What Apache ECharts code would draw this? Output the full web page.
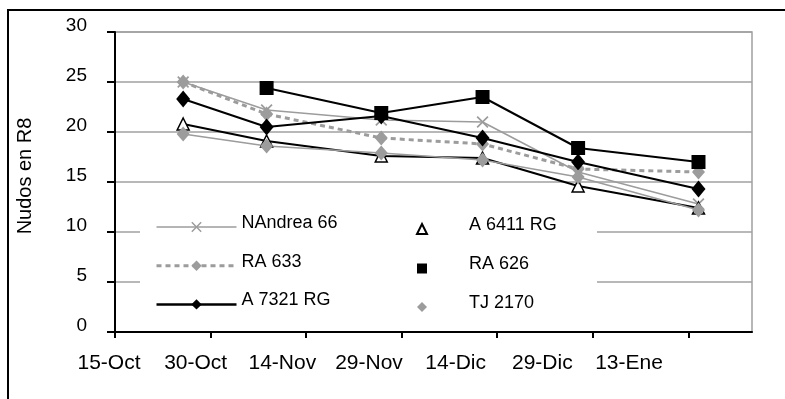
<!DOCTYPE html>
<html>
<head>
<meta charset="utf-8">
<script src="https://cdn.jsdelivr.net/npm/echarts@6/dist/echarts.min.js"></script>
<style>
  html, body { margin: 0; padding: 0; background: #fff; }
  #chart { width: 785px; height: 399px; }
</style>
</head>
<body>
<div id="chart"></div>
<script>
// Sampling dates, in days after 15-Oct
const sampleDay = [10.7, 23.8, 41.8, 57.7, 72.7, 91.6];
// Date tick labels (every 15 days from 15-Oct)
const dateLabels = ['15-Oct', '30-Oct', '14-Nov', '29-Nov', '14-Dic', '29-Dic', '13-Ene'];
const dateTickDays = [0, 15, 30, 45, 60, 75, 90];

// Nudos en R8 per cultivar
const nandrea66 = [25.0, 22.2, 21.2, 21.0, 16.0, 12.8];
const a6411rg   = [20.8, 19.1, 17.6, 17.4, 14.6, 12.4];
const ra633     = [25.0, 21.8, 19.4, 18.8, 16.3, 16.0];
const ra626     = [null, 24.4, 21.9, 23.5, 18.4, 17.0];
const a7321rg   = [23.3, 20.5, 21.6, 19.4, 17.0, 14.3];
const tj2170    = [19.8, 18.6, 17.9, 17.2, 15.5, 12.2];

const FONT = "'Liberation Sans', Arial, sans-serif";
const GRAY = '#9c9c9c';
const X_MARK = 'path://M1,0 L5,4 L9,0 L10,1 L6,5 L10,9 L9,10 L5,6 L1,10 L0,9 L4,5 L0,1 Z';

function points(values) {
  const out = [];
  values.forEach((v, i) => { if (v != null) out.push([sampleDay[i], v]); });
  return out;
}

function lineSeries(name, values, symbol, symbolSize, lineStyle, itemStyle) {
  return {
    name, type: 'line', xAxisIndex: 0, yAxisIndex: 0,
    data: points(values), symbol, symbolSize, showAllSymbol: true,
    lineStyle, itemStyle, emphasis: { disabled: true }
  };
}

const chart = echarts.init(document.getElementById('chart'), null, { renderer: 'canvas' });

// legend names sit a little above their samples
function legendTextStyle(leftPad) {
  return {
    fontSize: 18, fontFamily: FONT, color: '#000',
    rich: { n: { fontSize: 18, fontFamily: FONT, color: '#000', padding: [0, 0, 8, leftPad] } }
  };
}

chart.setOption({
  animation: false,
  backgroundColor: '#fff',
  grid: [
    { left: 115, right: 33, top: 32, bottom: 67, show: true, borderColor: '#a0a0a0', borderWidth: 1.5 },
    { left: 109, right: 156, top: 32, bottom: 67, show: false }
  ],
  xAxis: [
    {
      gridIndex: 0, type: 'value', min: 0, max: 100, interval: 15,
      axisLine: { show: true, onZero: false, lineStyle: { color: '#000', width: 2 } },
      axisTick: { show: true, customValues: dateTickDays, length: 6, lineStyle: { color: '#000', width: 2 } },
      axisLabel: { show: false },
      splitLine: { show: false }
    },
    {
      gridIndex: 1, type: 'value', min: 0, max: 6, interval: 1,
      axisLine: { show: false }, axisTick: { show: false }, splitLine: { show: false },
      axisLabel: {
        fontSize: 21, fontFamily: FONT, color: '#000', margin: 21,
        formatter: (v) => dateLabels[v] || ''
      }
    }
  ],
  yAxis: [
    {
      gridIndex: 0, type: 'value', min: 0, max: 30, interval: 5,
      axisLine: { show: true, lineStyle: { color: '#000', width: 2 } },
      axisTick: { show: true, length: 8, lineStyle: { color: '#000', width: 2 } },
      axisLabel: { fontSize: 19, fontFamily: FONT, color: '#000', margin: 28, verticalAlign: 'bottom', lineHeight: 12 },
      splitLine: { show: true, lineStyle: { color: '#a0a0a0', width: 1.5 } }
    },
    { gridIndex: 1, type: 'value', show: false }
  ],
  legend: [
    {
      left: 155, top: 214, padding: 0, orient: 'vertical', selectedMode: false,
      itemWidth: 80, itemHeight: 13, itemGap: 20.5, textStyle: legendTextStyle(0),
      formatter: '{n|{name}}',
      data: [
        { name: 'NAndrea 66', lineStyle: { width: 1.5 } },
        { name: 'RA 633', lineStyle: { width: 3 } },
        { name: 'A 7321 RG', lineStyle: { width: 2.5 } }
      ]
    },
    {
      left: 416, top: 216, padding: 0, orient: 'vertical', selectedMode: false,
      itemWidth: 10, itemHeight: 10, itemGap: 20.5, textStyle: legendTextStyle(37),
      formatter: '{n|{name}}',
      data: [
        { name: 'A 6411 RG', icon: 'triangle' },
        { name: 'RA 626', icon: 'rect' },
        { name: 'TJ 2170', icon: 'diamond', itemStyle: { color: GRAY } }
      ]
    }
  ],
  graphic: [
    { type: 'rect', silent: true, z: -10,
      shape: { x: 8, y: 10, width: 900, height: 500 },
      style: { fill: 'none', stroke: '#000', lineWidth: 2 } },
    { type: 'rect', silent: true, z: 1,
      shape: { x: 140, y: 200, width: 457, height: 122 },
      style: { fill: '#fff' } },
    { type: 'text', silent: true, x: 25, y: 176, rotation: Math.PI / 2,
      style: { text: 'Nudos en R8', font: '20px ' + FONT, fill: '#000', align: 'center', verticalAlign: 'middle' } }
  ],
  series: [
    lineSeries('NAndrea 66', nandrea66, X_MARK, 12,
      { color: GRAY, width: 1.5 }, { color: GRAY }),
    lineSeries('A 6411 RG', a6411rg, 'triangle', 12,
      { color: '#000', width: 2 }, { color: '#fff', borderColor: '#000', borderWidth: 1.5 }),
    lineSeries('RA 633', ra633, 'diamond', [13, 15],
      { color: GRAY, width: 3, type: [5, 4] }, { color: GRAY }),
    lineSeries('RA 626', ra626, 'rect', 14,
      { color: '#000', width: 2 }, { color: '#000' }),
    lineSeries('A 7321 RG', a7321rg, 'diamond', [14, 17],
      { color: '#000', width: 2 }, { color: '#000' }),
    lineSeries('TJ 2170', tj2170, 'diamond', [13, 15],
      { color: GRAY, width: 1.5 }, { color: GRAY })
  ]
});
</script>
</body>
</html>
